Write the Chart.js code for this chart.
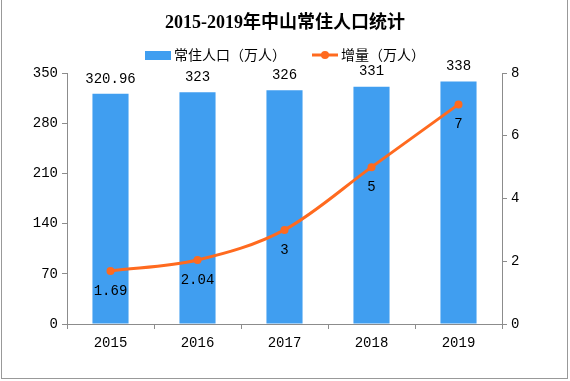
<!DOCTYPE html>
<html>
<head>
<meta charset="utf-8">
<script src="https://cdn.jsdelivr.net/npm/chart.js@4"></script>
<style>
  html, body { margin: 0; padding: 0; background: #fff; }
  #wrap { width: 570px; height: 381px; position: relative; }
</style>
</head>
<body>
<div id="wrap"><canvas id="popChart" width="570" height="381"></canvas></div>
<script>
const years = ['2015', '2016', '2017', '2018', '2019'];
const population = [320.96, 323, 326, 331, 338];
const increase = [1.69, 2.04, 3, 5, 7];
const leftTicks = [0, 70, 140, 210, 280, 350];
const rightTicks = [0, 2, 4, 6, 8];

const titleText = '2015-2019年中山常住人口统计';
const popLabel = '常住人口（万人）';
const incLabel = '增量（万人）';

const BLUE = '#409ef0';
const ORANGE = '#ff6a1f';
const AXIS = '#8c8c8c';
const FONT = '"Liberation Mono", "Noto Sans CJK SC", monospace';
const CJK = '"Noto Sans CJK SC", sans-serif';

// title, legend, value labels and frame
const decorPlugin = {
    id: 'decor',
    afterDatasetsDraw(chart) {
        const ctx = chart.ctx;
        ctx.save();
        ctx.fillStyle = '#000';
        ctx.textAlign = 'center';
        ctx.textBaseline = 'middle';

        // bar values
        ctx.font = '14px ' + FONT;
        chart.getDatasetMeta(0).data.forEach((bar, i) => {
            ctx.fillText(String(population[i]), bar.x, bar.y - 15);
        });
        // line values
        chart.getDatasetMeta(1).data.forEach((pt, i) => {
            ctx.fillText(String(increase[i]), pt.x, pt.y + 20);
        });
        ctx.restore();
    },
    afterDraw(chart) {
        const ctx = chart.ctx;
        ctx.save();
        // title
        ctx.fillStyle = '#000';
        ctx.textAlign = 'center';
        ctx.textBaseline = 'middle';
        ctx.font = 'bold 18px "Liberation Serif", "Noto Sans CJK SC", serif';
        ctx.fillText(titleText, 285, 23);

        // legend
        ctx.font = '14px ' + CJK;
        ctx.textAlign = 'left';
        ctx.fillStyle = BLUE;
        ctx.fillRect(145, 51, 26, 9);
        ctx.fillStyle = '#000';
        ctx.fillText(popLabel, 174, 55);

        ctx.strokeStyle = ORANGE;
        ctx.lineWidth = 3;
        ctx.beginPath();
        ctx.moveTo(312, 55);
        ctx.lineTo(338, 55);
        ctx.stroke();
        ctx.fillStyle = ORANGE;
        ctx.beginPath();
        ctx.arc(325, 55, 4, 0, Math.PI * 2);
        ctx.fill();
        ctx.fillStyle = '#000';
        ctx.fillText(incLabel, 341, 55);

        // outer frame
        ctx.strokeStyle = '#999';
        ctx.lineWidth = 1;
        ctx.strokeRect(1.5, -1, 566, 379.5);
        ctx.restore();
    }
};

function initChart() {
    const ctx = document.getElementById('popChart').getContext('2d');
    new Chart(ctx, {
        data: {
            labels: years,
            datasets: [
                {
                    type: 'bar',
                    label: popLabel,
                    data: population,
                    backgroundColor: BLUE,
                    yAxisID: 'y',
                    barPercentage: 0.83,
                    categoryPercentage: 0.5,
                    order: 2
                },
                {
                    type: 'line',
                    label: incLabel,
                    data: increase,
                    borderColor: ORANGE,
                    backgroundColor: ORANGE,
                    borderWidth: 3,
                    pointRadius: 4,
                    pointBackgroundColor: ORANGE,
                    pointBorderWidth: 0,
                    cubicInterpolationMode: 'monotone',
                    yAxisID: 'y1',
                    order: 1
                }
            ]
        },
        options: {
            responsive: false,
            animation: false,
            layout: { padding: { top: 73, left: 0, right: 0, bottom: 0 } },
            plugins: {
                legend: { display: false },
                title: { display: false },
                tooltip: { enabled: false }
            },
            scales: {
                x: {
                    offset: true,
                    grid: { display: true, drawOnChartArea: false, offset: true, color: AXIS, tickLength: 5 },
                    border: { color: AXIS },
                    ticks: { color: '#000', font: { family: FONT, size: 14 }, padding: 6 },
                    afterFit(scale) { scale.height = 57; }
                },
                y: {
                    position: 'left',
                    min: 0,
                    max: 350,
                    afterBuildTicks(scale) { scale.ticks = leftTicks.map(v => ({ value: v })); },
                    grid: { drawOnChartArea: false, color: AXIS, tickLength: 5 },
                    border: { color: AXIS },
                    ticks: { color: '#000', font: { family: FONT, size: 14 }, padding: 4 },
                    afterFit(scale) { scale.width = 67; }
                },
                y1: {
                    position: 'right',
                    min: 0,
                    max: 8,
                    afterBuildTicks(scale) { scale.ticks = rightTicks.map(v => ({ value: v })); },
                    grid: { drawOnChartArea: false, color: AXIS, tickLength: 5 },
                    border: { color: AXIS },
                    ticks: { color: '#000', font: { family: FONT, size: 14 }, padding: 4 },
                    afterFit(scale) { scale.width = 68; }
                }
            }
        },
        plugins: [decorPlugin]
    });
}

window.onload = initChart;
</script>
</body>
</html>
